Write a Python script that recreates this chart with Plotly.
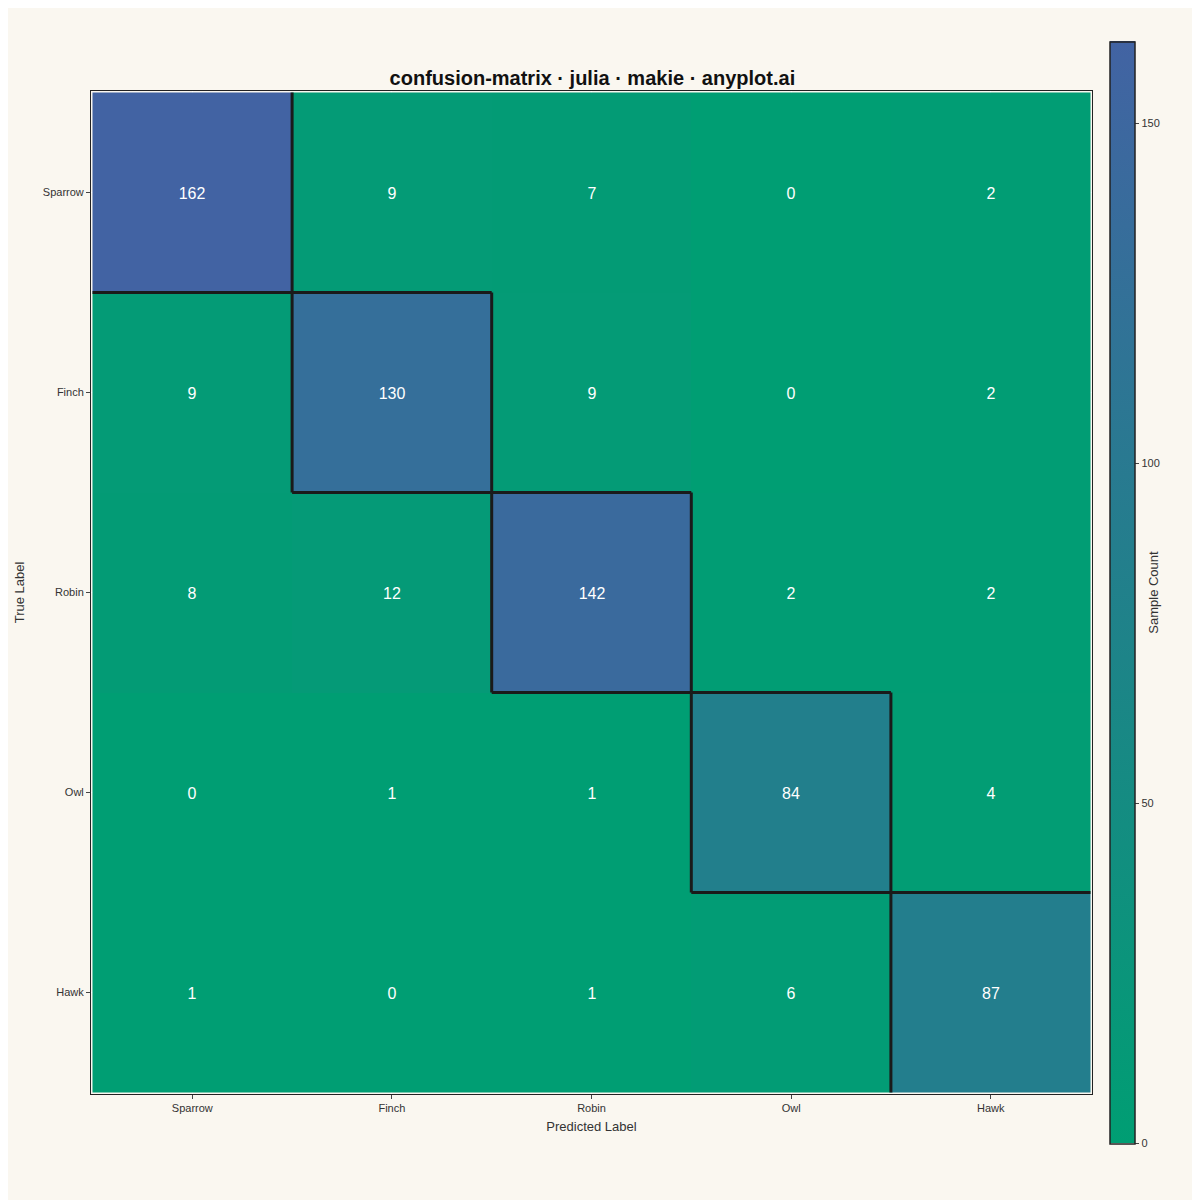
import plotly.graph_objects as go

labels = ["Sparrow", "Finch", "Robin", "Owl", "Hawk"]
counts = [
    [162, 9, 7, 0, 2],
    [9, 130, 9, 0, 2],
    [8, 12, 142, 2, 2],
    [0, 1, 1, 84, 4],
    [1, 0, 1, 6, 87],
]

fig = go.Figure(go.Heatmap(
    z=counts, x=labels, y=labels,
    colorscale=[[0, "#009E73"], [1, "#4263A3"]],
    zmin=0, zmax=162, xgap=0, ygap=0,
    text=[[str(v) for v in r] for r in counts], texttemplate="%{text}",
    textfont=dict(color="white", size=16, family="Liberation Sans"),
    colorbar=dict(title=dict(text="Sample Count", side="right", font=dict(size=13)),
                  tickvals=[0, 50, 100, 150], thickness=25, len=1.099, lenmode="fraction",
                  x=1.018, xanchor="left", y=0.5, yanchor="middle", ypad=0, xpad=0,
                  outlinecolor="#222", outlinewidth=1.5, ticks="outside", ticklen=4,
                  tickfont=dict(size=11)),
))
n = len(labels)
ln = dict(color="#1a1a1a", width=3)
for i in range(n):
    if i > 0:
        fig.add_shape(type="line", x0=i - 0.5, x1=i - 0.5, y0=i - 0.5, y1=i + 0.5, line=ln)
        fig.add_shape(type="line", x0=i - 0.5, x1=i + 0.5, y0=i - 0.5, y1=i - 0.5, line=ln)
    if i < n - 1:
        fig.add_shape(type="line", x0=i + 0.5, x1=i + 0.5, y0=i - 0.5, y1=i + 0.5, line=ln)
        fig.add_shape(type="line", x0=i - 0.5, x1=i + 0.5, y0=i + 0.5, y1=i + 0.5, line=ln)

fig.update_layout(
    width=1200, height=1200,
    paper_bgcolor="#FAF7F0", plot_bgcolor="#FAF7F0",
    font=dict(family="Liberation Sans", color="#333", size=12),
    title=dict(text="<b>confusion-matrix · julia · makie · anyplot.ai</b>", x=0.487, xanchor="center",
               y=1 - 70 / 1200, yanchor="middle", font=dict(size=20, color="#111")),
    margin=dict(l=83, r=116, t=83, b=114),
    xaxis=dict(title=dict(text="Predicted Label", font=dict(size=13), standoff=8), side="bottom",
               ticks="outside", ticklen=4, showline=True, linecolor="#222", mirror=True, tickfont=dict(size=11)),
    yaxis=dict(title=dict(text="True Label", font=dict(size=13)), autorange="reversed",
               ticks="outside", ticklen=4, showline=True, linecolor="#222", mirror=True, tickfont=dict(size=11)),
)
fig.write_html("out.html")
